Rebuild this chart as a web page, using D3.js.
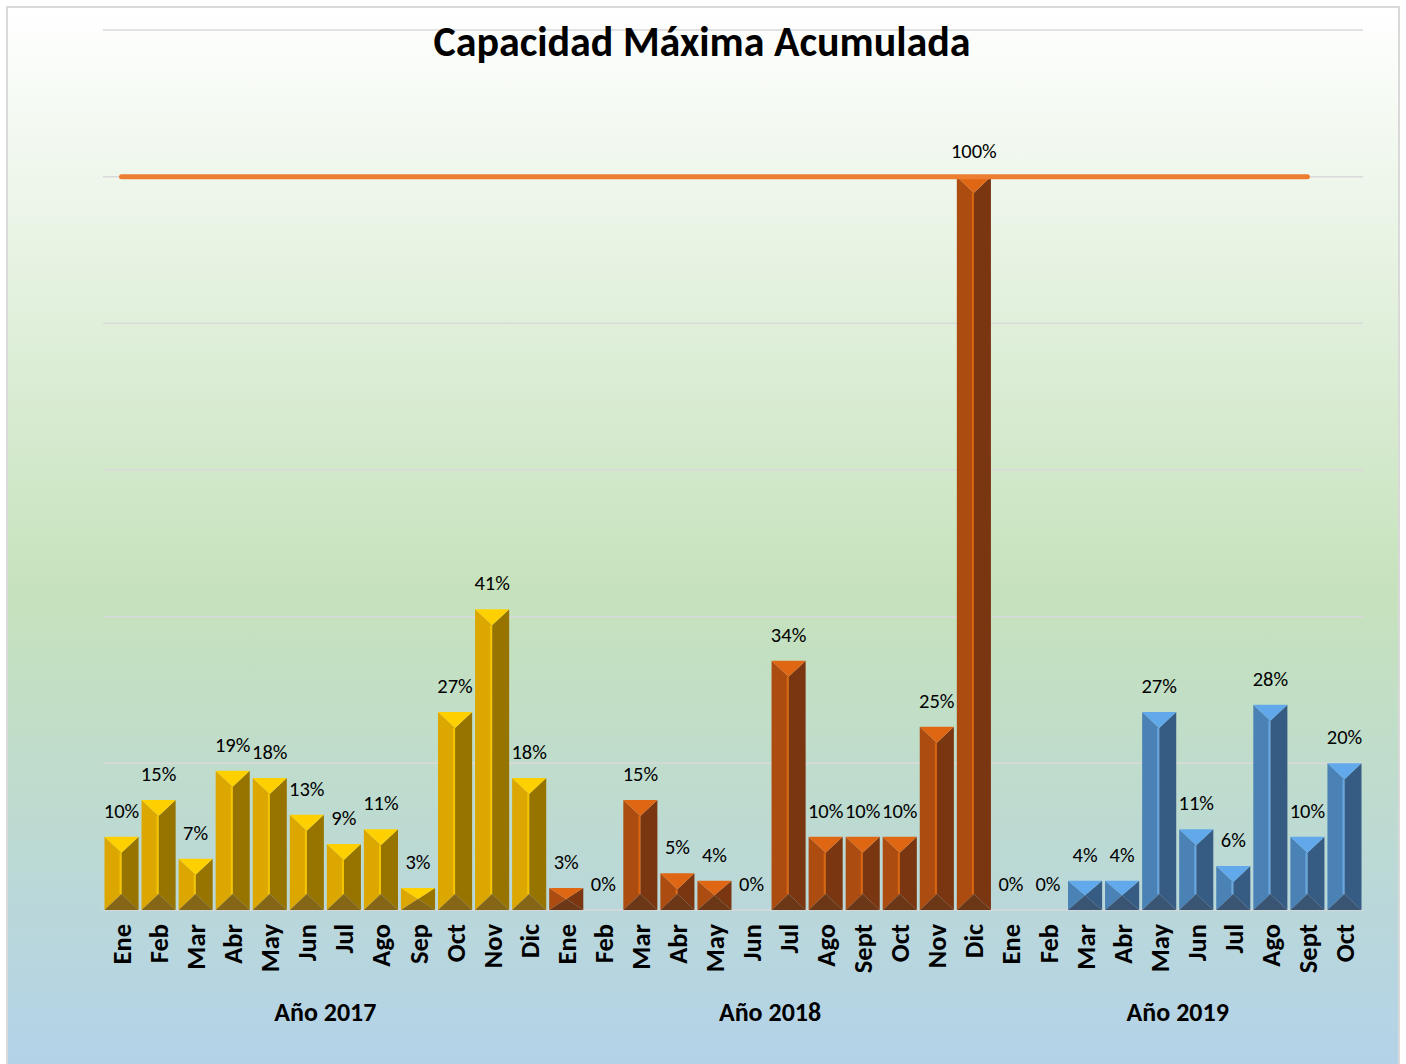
<!DOCTYPE html>
<html>
<head>
<meta charset="utf-8">
<script src="https://cdn.jsdelivr.net/npm/d3@7"></script>
<style>
  body { margin: 0; background: #fff; }
  svg text { font-family: Carlito, Lato, "Open Sans", sans-serif; }
</style>
</head>
<body>
<div id="chart"></div>
<script>
// data
var meses2017 = ["Ene","Feb","Mar","Abr","May","Jun","Jul","Ago","Sep","Oct","Nov","Dic"];
var valores2017 = [0.10,0.15,0.07,0.19,0.18,0.13,0.09,0.11,0.03,0.27,0.41,0.18];
var meses2018 = ["Ene","Feb","Mar","Abr","May","Jun","Jul","Ago","Sept","Oct","Nov","Dic"];
var valores2018 = [0.03,0,0.15,0.05,0.04,0,0.34,0.10,0.10,0.10,0.25,1.00];
var meses2019 = ["Ene","Feb","Mar","Abr","May","Jun","Jul","Ago","Sept","Oct"];
var valores2019 = [0,0,0.04,0.04,0.27,0.11,0.06,0.28,0.10,0.20];
var grupos = ["Año 2017","Año 2018","Año 2019"];
// capacity line at 100% (runs through Sept 2019)
var limite = 1.0, limiteN = 33;
var yTicks = [0,0.2,0.4,0.6,0.8,1.0,1.2];

var paletas = {
  "Año 2017": {top:"#FFD000", left:"#DBA700", right:"#977400", bot:"#846616", hi:"#F5C400"},
  "Año 2018": {top:"#DF6714", left:"#AD4C10", right:"#7A3610", bot:"#6B3716", hi:"#D9650F"},
  "Año 2019": {top:"#61A9EA", left:"#4A82B6", right:"#365C84", bot:"#3A5474", hi:"#69A6DE"}
};

// flatten into one category list
var data = [];
[[meses2017,valores2017],[meses2018,valores2018],[meses2019,valores2019]].forEach(function(g,gi){
  g[0].forEach(function(m,i){
    data.push({key: gi+"-"+i, mes: m, value: g[1][i], grupo: grupos[gi]});
  });
});

var W = 1406, H = 1064;
var margin = {top: 30, left: 103, right: 43, bottom: 154};
var width = W - margin.left - margin.right,
    height = H - margin.top - margin.bottom;

var svg = d3.select("#chart").append("svg")
  .attr("width", W).attr("height", H);

var defs = svg.append("defs");
var grad = defs.append("linearGradient").attr("id","bg")
  .attr("x1",0).attr("y1",0).attr("x2",0).attr("y2",1);
grad.append("stop").attr("offset","0%").attr("stop-color","#FFFFFF");
grad.append("stop").attr("offset","55%").attr("stop-color","#C6E2BC");
grad.append("stop").attr("offset","100%").attr("stop-color","#B3D2E9");

svg.append("rect").attr("x",7).attr("y",7).attr("width",W-14).attr("height",H)
  .attr("fill","url(#bg)").attr("stroke","#D9D9D9").attr("stroke-width",2);

var g = svg.append("g").attr("transform","translate("+margin.left+","+margin.top+")");

var x = d3.scaleBand().domain(data.map(function(d){return d.key;}))
  .range([0,width]).paddingInner(0.08).paddingOuter(0.04);
var y = d3.scaleLinear().domain([0,1.2]).range([height,0]);

// gridlines
g.append("g").selectAll("line").data(yTicks).enter().append("line")
  .attr("x1",0).attr("x2",width)
  .attr("y1",function(d){return y(d);}).attr("y2",function(d){return y(d);})
  .attr("stroke","#D9D9D9").attr("stroke-width",1.5);

// bevelled bars
var bars = g.selectAll(".bar").data(data.filter(function(d){return d.value>0;}))
  .enter().append("g").attr("class","bar");

bars.each(function(d){
  var s = d3.select(this), p = paletas[d.grupo];
  var x0 = x(d.key), x1 = x0 + x.bandwidth(), cx = (x0+x1)/2;
  var top = y(d.value), bot = y(0), h = bot - top;
  var b = Math.min(16, h/2);
  var pts = function(a){ return a.map(function(q){return q.join(",");}).join(" "); };
  s.append("polygon").attr("points", pts([[x0,top],[cx,top+b],[cx,bot-b],[x0,bot]])).attr("fill",p.left);
  s.append("polygon").attr("points", pts([[x1,top],[cx,top+b],[cx,bot-b],[x1,bot]])).attr("fill",p.right);
  s.append("polygon").attr("points", pts([[x0,top],[x1,top],[cx,top+b]])).attr("fill",p.top);
  s.append("polygon").attr("points", pts([[x0,bot],[x1,bot],[cx,bot-b]])).attr("fill",p.bot);
  if (h > 2*b) {
    s.append("line").attr("x1",cx-1).attr("x2",cx-1).attr("y1",top+b).attr("y2",bot-b)
      .attr("stroke",p.hi).attr("stroke-width",2);
  }
});

// data labels
g.selectAll(".lbl").data(data).enter().append("text")
  .attr("x",function(d){return x(d.key)+x.bandwidth()/2;})
  .attr("y",function(d){return y(d.value)-24;})
  .attr("text-anchor","middle").attr("dominant-baseline","middle")
  .style("font-size","20.5px").attr("fill","#000")
  .text(function(d){return Math.round(d.value*100)+"%";});

// limit line
var lineData = data.slice(0,limiteN);
var line = d3.line()
  .x(function(d){return x(d.key)+x.bandwidth()/2;})
  .y(function(){return y(limite);});
g.append("path").datum(lineData).attr("d",line)
  .attr("fill","none").attr("stroke","#ED7D31").attr("stroke-width",5)
  .attr("stroke-linecap","round");

// month labels (x axis)
var xAxis = g.append("g").attr("transform","translate(0,"+height+")")
  .call(d3.axisBottom(x).tickSize(0).tickFormat(function(k){
    return data.find(function(d){return d.key===k;}).mes;
  }));
xAxis.select(".domain").remove();
xAxis.selectAll("text")
  .attr("transform","rotate(-90)")
  .attr("x",-14).attr("y",0).attr("dy","0.36em")
  .attr("text-anchor","end")
  .style("font-size","26.5px").style("font-weight","900").attr("fill","#000");

// year group labels
grupos.forEach(function(gr){
  var ks = data.filter(function(d){return d.grupo===gr;});
  var a = x(ks[0].key), z = x(ks[ks.length-1].key)+x.bandwidth();
  g.append("text").attr("x",(a+z)/2).attr("y",height+111)
    .attr("text-anchor","middle")
    .style("font-size","26px").style("font-weight","bold").text(gr);
});

// title
svg.append("text").attr("x",702).attr("y",56).attr("text-anchor","middle")
  .style("font-size","42px").style("font-weight","bold").text("Capacidad Máxima Acumulada");
</script>
</body>
</html>
